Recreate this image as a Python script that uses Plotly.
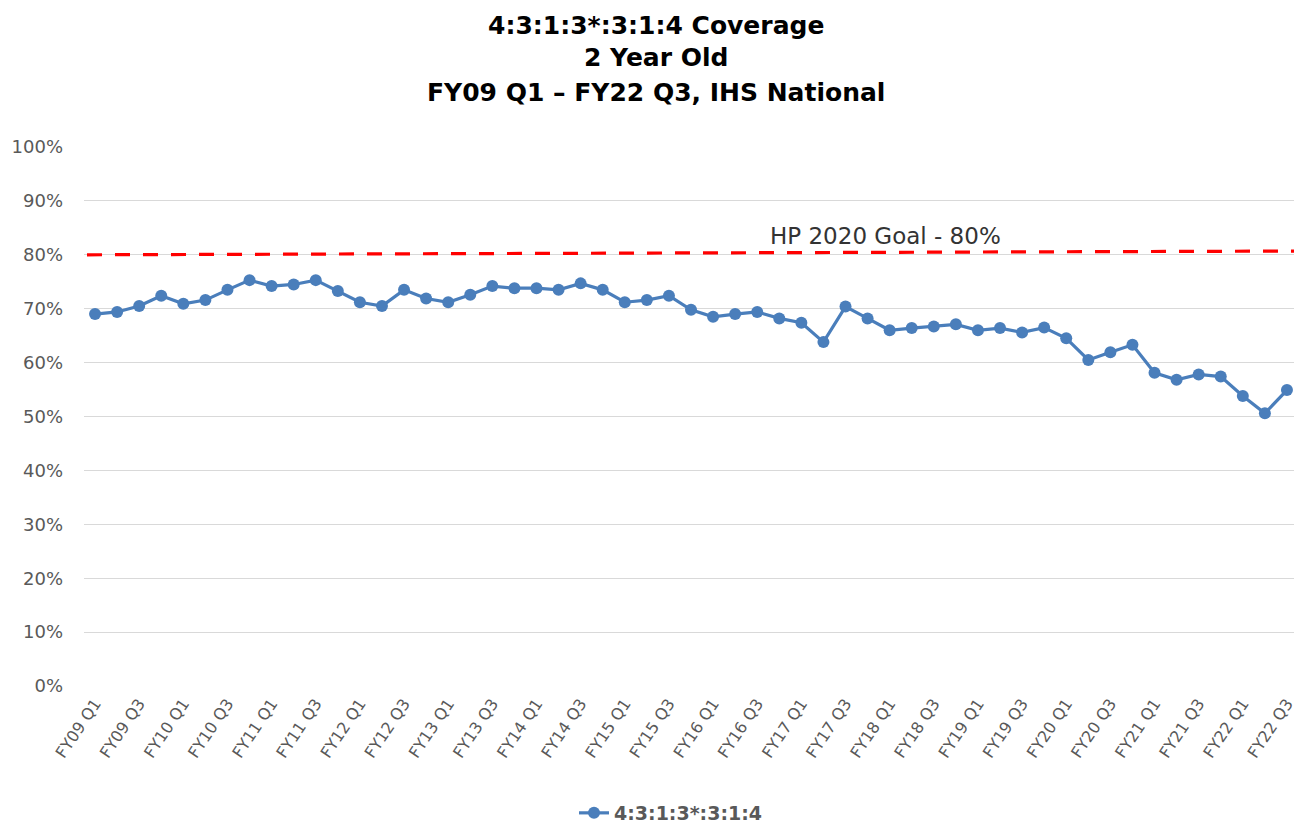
import plotly.graph_objects as go

years = list(range(9, 23))
quarters = []
for y in years:
    for q in range(1, 5):
        if y == 22 and q == 4:
            break
        quarters.append(f"FY{y:02d} Q{q}")

coverage = [69.0, 69.4, 70.5, 72.4, 70.9, 71.6, 73.5, 75.3, 74.2, 74.5,
            75.3, 73.3, 71.2, 70.5, 73.5, 71.9, 71.2, 72.6, 74.2, 73.8,
            73.8, 73.5, 74.7, 73.5, 71.2, 71.6, 72.4, 69.8, 68.5, 69.0,
            69.4, 68.2, 67.4, 63.8, 70.4, 68.2, 66.0, 66.4, 66.7, 67.1,
            66.0, 66.4, 65.6, 66.5, 64.5, 60.5, 61.9, 63.3, 58.1, 56.8,
            57.8, 57.4, 53.8, 50.6, 54.9]

goal_values = [80.0, 80.7]  # start / end of the drawn goal line
goal_label = "HP 2020 Goal - 80%"
series_name = "4:3:1:3*:3:1:4"
title_lines = ["4:3:1:3*:3:1:4 Coverage", "2 Year Old", "FY09 Q1 \u2013 FY22 Q3, IHS National"]

y_ticks = list(range(0, 101, 10))
tick_idx = list(range(0, len(quarters), 2))

# page is rendered with an 8px body margin; work in page pixels and shift
OFF = 8
W, H = 1302, 826
PL, PR, PT, PB = 84, 1298, 147, 686  # plot area in page pixels
L, R, T, B = PL - OFF, W - (PR - OFF), PT - OFF, H - (PB - OFF)
PW, PH = W - L - R, H - T - B


def px_x(p):
    return (p - OFF - L) / PW


def px_y(p):
    return (H - B - (p - OFF)) / PH


fig = go.Figure()
fig.add_trace(go.Scatter(
    x=list(range(len(quarters))), y=coverage, mode="lines+markers",
    name=series_name,
    line=dict(color="#4A7EBB", width=3.2),
    marker=dict(color="#4A7EBB", size=12),
))

fig.add_shape(type="line", xref="paper", yref="y", x0=px_x(87), x1=px_x(1301),
              y0=goal_values[0], y1=goal_values[1],
              line=dict(color="#FF0000", width=3.2, dash="15px,13px"))

fig.add_annotation(text=goal_label, xref="paper", yref="paper", x=px_x(885), y=px_y(236),
                   xanchor="center", yanchor="middle", showarrow=False,
                   font=dict(family="DejaVu Sans", size=23, color="#333333"))

for t, py in zip(title_lines, [25, 58, 92]):
    fig.add_annotation(text=f"<b>{t}</b>", xref="paper", yref="paper",
                       x=px_x(656), y=px_y(py),
                       xanchor="center", yanchor="middle", showarrow=False,
                       font=dict(family="DejaVu Sans", size=25, color="#000000"))

fig.update_layout(
    width=W, height=H,
    margin=dict(l=L, r=R, t=T, b=B, autoexpand=False),
    plot_bgcolor="white", paper_bgcolor="white",
    showlegend=True,
    legend=dict(orientation="h", x=px_x(574), y=px_y(813), xanchor="left", yanchor="middle",
                font=dict(family="DejaVu Sans", size=19, color="#595959", weight="bold")),
    xaxis=dict(range=[-0.5, len(quarters) - 0.5], automargin=False,
               tickvals=tick_idx, ticktext=[quarters[i] for i in tick_idx],
               tickangle=-56, showgrid=False, zeroline=False, showline=False,
               ticks="", ticklabelstandoff=4,
               tickfont=dict(family="DejaVu Sans", size=16, color="#595959")),
    yaxis=dict(range=[0, 100], tickvals=y_ticks, ticktext=[f"{v}%" for v in y_ticks],
               automargin=False,
               showgrid=True, gridcolor="#D9D9D9", gridwidth=1, zeroline=False,
               showline=False, ticks="", ticklabelstandoff=20,
               tickfont=dict(family="DejaVu Sans", size=18, color="#595959")),
)

fig.write_html("out.html")
